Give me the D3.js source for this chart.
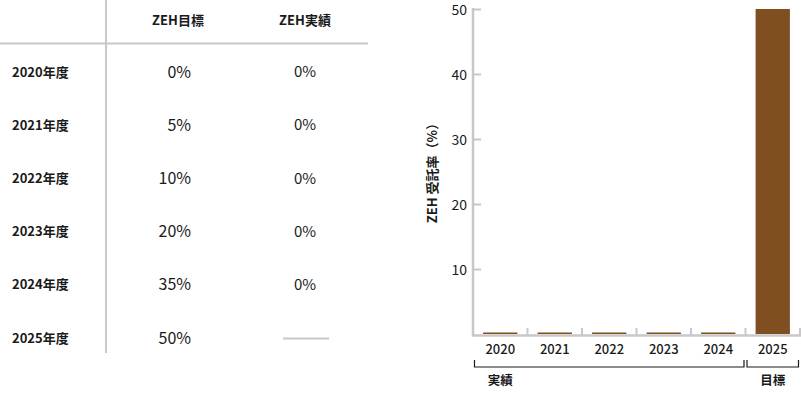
<!DOCTYPE html>
<html>
<head>
<meta charset="utf-8">
<script src="https://cdn.jsdelivr.net/npm/d3@7"></script>
<style>
  body { margin: 0; background: #fff; }
  svg { display: block; font-family: "Noto Sans CJK JP", "Noto Sans", sans-serif; }
</style>
</head>
<body>
<script>
// data
let years = ["2020", "2021", "2022", "2023", "2024", "2025"];
let rowLabels = ["2020年度", "2021年度", "2022年度", "2023年度", "2024年度", "2025年度"];
let headers = ["ZEH目標", "ZEH実績"];
let targets = [0, 5, 10, 20, 35, 50];
let actuals = [0, 0, 0, 0, 0, null];
let chartValues = [0, 0, 0, 0, 0, 50];
let yTicks = [10, 20, 30, 40, 50];
let groups = [
  { label: "実績", from: "2020", to: "2024" },
  { label: "目標", from: "2025", to: "2025" }
];
let yLabel = "ZEH 受託率（%）";

let width = 801,
  height = 396,
  grey = "#c8c8c8",
  brown = "#7f4f21",
  ink = "#1a1a1a";

let svg = d3.select("body").append("svg")
  .attr("width", width)
  .attr("height", height);

// ---- table ----
let table = svg.append("g");

let rowY = d3.scalePoint()
  .domain(rowLabels)
  .range([72, 338]);

let colX = [178, 305];

table.append("line")
  .attr("x1", 0).attr("x2", 368)
  .attr("y1", 43.5).attr("y2", 43.5)
  .attr("stroke", grey).attr("stroke-width", 2);

table.append("line")
  .attr("x1", 106).attr("x2", 106)
  .attr("y1", 0).attr("y2", 353)
  .attr("stroke", grey).attr("stroke-width", 2);

table.selectAll("text.head").data(headers).enter().append("text")
  .attr("class", "head")
  .attr("x", (d, i) => colX[i])
  .attr("y", 20)
  .attr("dy", ".35em")
  .attr("text-anchor", "middle")
  .attr("font-size", 13)
  .attr("font-weight", "bold")
  .attr("fill", ink)
  .text(d => d);

table.selectAll("text.row").data(rowLabels).enter().append("text")
  .attr("class", "row")
  .attr("x", 12)
  .attr("y", d => rowY(d))
  .attr("dy", ".35em")
  .attr("font-size", 13)
  .attr("font-weight", "bold")
  .attr("fill", ink)
  .text(d => d);

table.selectAll("text.target").data(targets).enter().append("text")
  .attr("class", "target")
  .attr("x", 191)
  .attr("y", (d, i) => rowY(rowLabels[i]))
  .attr("dy", ".35em")
  .attr("text-anchor", "end")
  .attr("font-size", 16)
  .attr("fill", ink)
  .text(d => d + "%");

actuals.forEach((d, i) => {
  let y = rowY(rowLabels[i]);
  if (d === null) {
    table.append("line")
      .attr("x1", 283).attr("x2", 329)
      .attr("y1", y + 0.5).attr("y2", y + 0.5)
      .attr("stroke", grey).attr("stroke-width", 2);
  } else {
    table.append("text")
      .attr("x", colX[1])
      .attr("y", y)
      .attr("dy", ".35em")
      .attr("text-anchor", "middle")
      .attr("font-size", 15)
      .attr("fill", ink)
      .text(d + "%");
  }
});

// ---- chart ----
let x = d3.scaleBand()
  .domain(years)
  .range([473, 800])
  .paddingInner(0.37)
  .paddingOuter(0.185);

let y = d3.scaleLinear()
  .domain([0, 50])
  .range([334, 9]);

let gap = (x.step() - x.bandwidth()) / 2;

// bars (zero values still show a thin line)
svg.append("g").selectAll("rect").data(chartValues).enter().append("rect")
  .attr("x", (d, i) => x(years[i]))
  .attr("width", x.bandwidth())
  .attr("y", d => Math.min(y(d), y(0) - 1.5))
  .attr("height", d => Math.max(y(0) - y(d), 1.5))
  .attr("fill", brown);

// y axis
let yAxis = svg.append("g")
  .attr("transform", `translate(473,0)`)
  .call(d3.axisRight(y).tickValues(yTicks).tickSize(8).tickFormat(""));
yAxis.select(".domain").remove();
yAxis.selectAll("line").attr("stroke", grey).attr("stroke-width", 2);

svg.append("line")
  .attr("x1", 473).attr("x2", 473)
  .attr("y1", 8).attr("y2", 336)
  .attr("stroke", grey).attr("stroke-width", 2.5);

svg.append("g").selectAll("text").data(yTicks).enter().append("text")
  .attr("x", 467)
  .attr("y", d => y(d) + 1)
  .attr("dy", ".35em")
  .attr("text-anchor", "end")
  .attr("font-size", 14)
  .attr("fill", ink)
  .text(d => d);

svg.append("text")
  .attr("transform", "translate(432,170) rotate(-90)")
  .attr("dy", ".35em")
  .attr("text-anchor", "middle")
  .attr("font-size", 13)
  .attr("font-weight", "bold")
  .attr("fill", ink)
  .text(yLabel);

// x axis
svg.append("line")
  .attr("x1", 472).attr("x2", 801)
  .attr("y1", 335.5).attr("y2", 335.5)
  .attr("stroke", grey).attr("stroke-width", 2.5);

svg.append("g").selectAll("line").data(years).enter().append("line")
  .attr("x1", d => x(d) + x.bandwidth() + gap)
  .attr("x2", d => x(d) + x.bandwidth() + gap)
  .attr("y1", 328).attr("y2", 335)
  .attr("stroke", grey).attr("stroke-width", 2);

svg.append("g").selectAll("text").data(years).enter().append("text")
  .attr("x", d => x(d) + x.bandwidth() / 2)
  .attr("y", 349)
  .attr("dy", ".35em")
  .attr("text-anchor", "middle")
  .attr("font-size", 13)
  .attr("font-weight", 500)
  .attr("fill", ink)
  .text(d => d);

// group brackets
let brackets = svg.append("g").selectAll("g").data(groups).enter().append("g");

brackets.append("path")
  .attr("d", d => {
    let x0 = x(d.from) - gap + 1.5,
      x1 = x(d.to) + x.bandwidth() + gap - 1.5;
    return `M${x0},360V367H${x1}V360`;
  })
  .attr("fill", "none")
  .attr("stroke", ink)
  .attr("stroke-width", 1.2);

brackets.append("text")
  .attr("x", d => x(d.from) + x.bandwidth() / 2)
  .attr("y", 381)
  .attr("dy", ".35em")
  .attr("text-anchor", "middle")
  .attr("font-size", 12.5)
  .attr("font-weight", "bold")
  .attr("fill", ink)
  .text(d => d.label);
</script>
</body>
</html>
